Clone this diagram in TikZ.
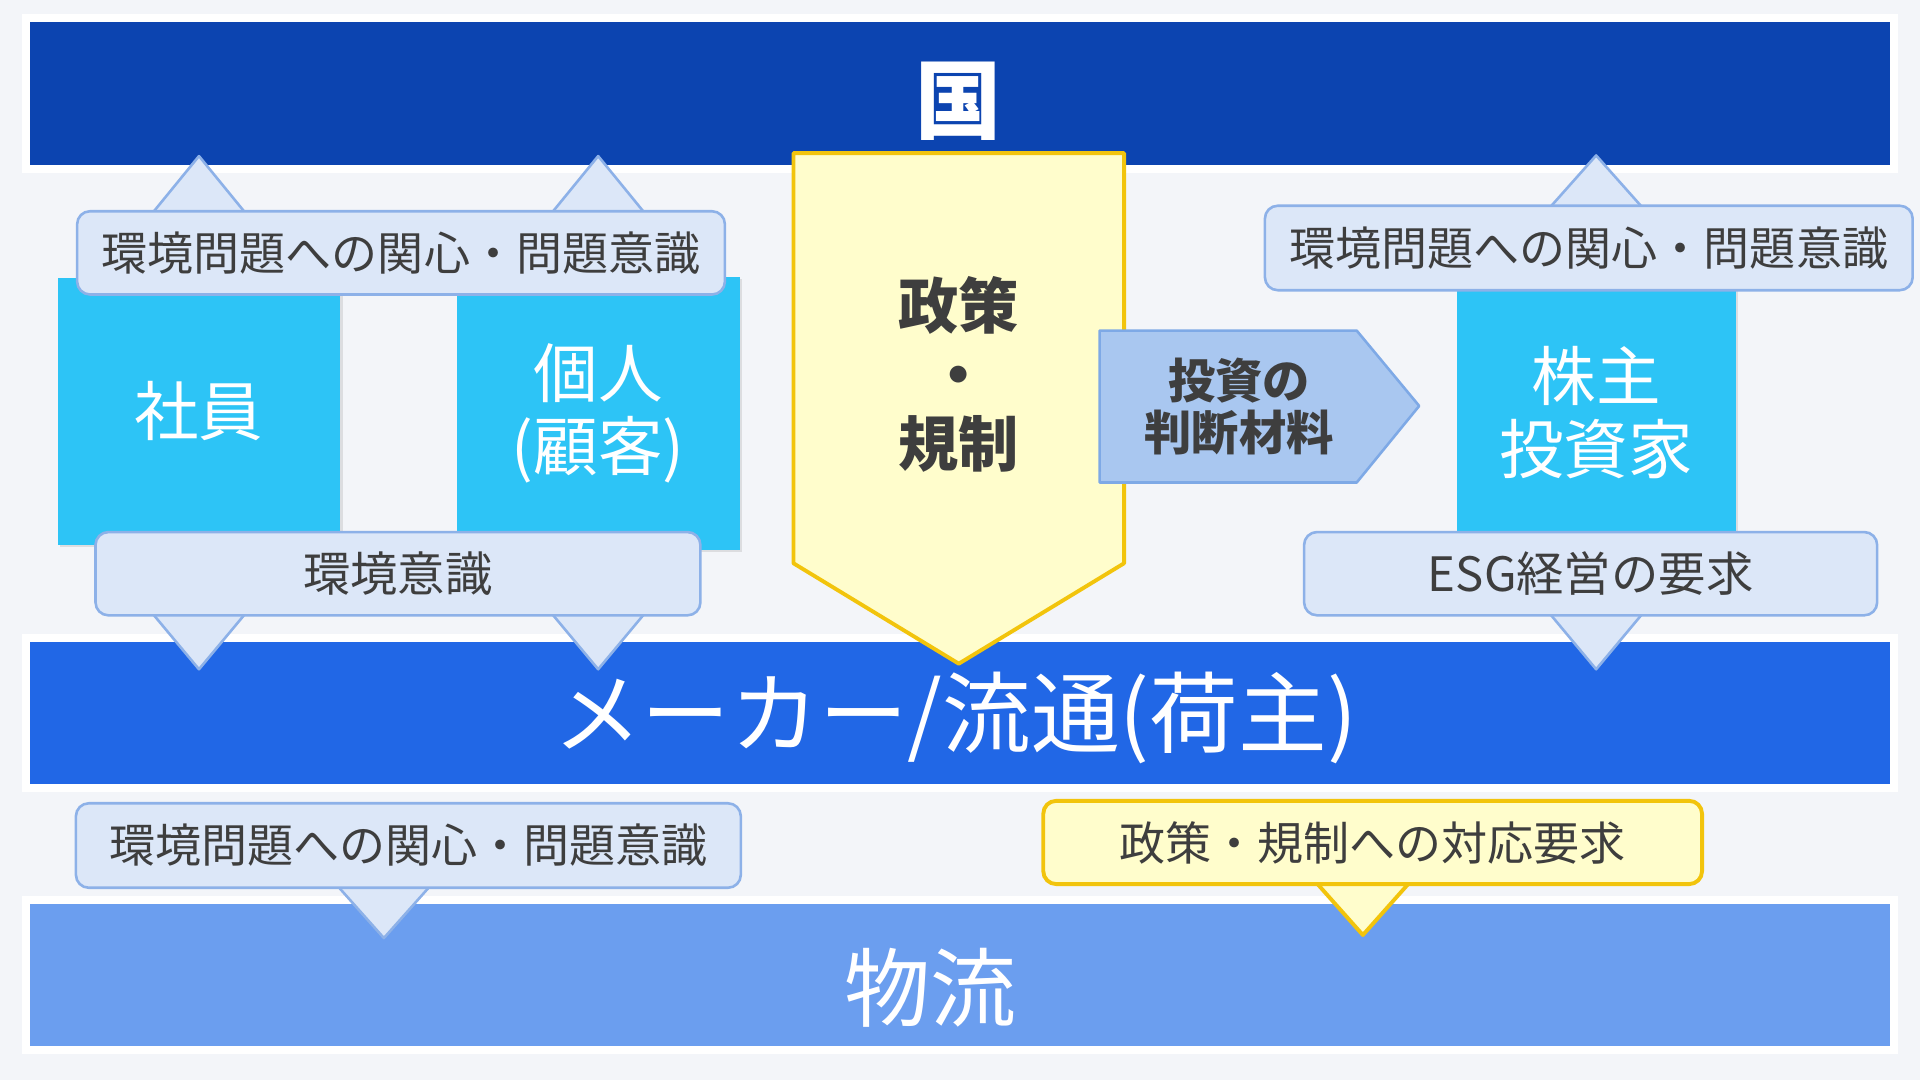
\documentclass[tikz,border=0pt]{standalone}
\usepackage{fontspec}
\setmainfont{Noto Sans CJK JP}
\usepackage{xcolor}
\usetikzlibrary{calc,positioning,backgrounds,shadows}
\definecolor{pagebg}{HTML}{F3F5F9}
\definecolor{kokublue}{HTML}{0C44B0}
\definecolor{makerblue}{HTML}{2167E6}
\definecolor{butsublue}{HTML}{6B9EEF}
\definecolor{boxcyan}{HTML}{2DC4F6}
\definecolor{callfill}{HTML}{DCE7F8}
\definecolor{callline}{HTML}{8DB1E8}
\definecolor{polfill}{HTML}{FFFDCC}
\definecolor{polline}{HTML}{F2C40C}
\definecolor{investfill}{HTML}{A9C7F0}
\definecolor{investline}{HTML}{7EA9E6}
\definecolor{txtgray}{HTML}{3E3E3E}
\tikzset{
  band/.style={draw=white, line width=1.85pt, outer sep=0pt, inner sep=0pt,
    minimum width=15.26cm, minimum height=1.23cm,
    drop shadow={shadow xshift=0.6pt, shadow yshift=-0.9pt, opacity=0.3}},
  bandtext/.style={text=white, inner sep=0pt},
  bubble/.style={draw=callline, line width=0.6pt, fill=callfill, rounded corners=3pt,
    minimum height=0.68cm, inner sep=0pt, text=txtgray, font=\fontsize{10.7}{12}\selectfont},
  tri/.style={draw=callline, line width=0.6pt, fill=callfill, line join=round},
}

\begin{document}
\begin{tikzpicture}[
  cbox/.style={fill=boxcyan, minimum width=2.31cm, inner sep=0pt, align=center, text=white,
    font=\fontsize{15}{17}\selectfont,
    drop shadow={shadow xshift=0.5pt, shadow yshift=-0.6pt, opacity=0.2}},
  policy/.style={draw=polline, line width=0.9pt, fill=polfill, line join=round},
  invest/.style={draw=investline, line width=0.6pt, fill=investfill, line join=round},
  ybubble/.style={bubble, draw=polline, fill=polfill, line width=0.9pt},
  ytri/.style={tri, draw=polline, fill=polfill, line width=0.9pt},
]
  \useasboundingbox (0,0) rectangle (15.68,8.82);

  \begin{scope}[on background layer]
    \fill[pagebg] (0,0) rectangle (15.68,8.82);
    \node[band, fill=kokublue] (koku) at (7.84,8.057) {};
    \node[band, fill=makerblue] (maker) at (7.84,2.997) {};
    \node[band, fill=butsublue] (butsuryu) at (7.84,0.857) {};
    \node[cbox, minimum height=2.18cm] (shain) at (1.625,5.46) {社員};
    \node[cbox, minimum height=2.23cm] (kojin) at (4.885,5.445) {個人\\(顧客)};
    \node[cbox, minimum width=2.28cm, minimum height=2.24cm] (kabu) at (13.035,5.45) {株主\\投資家};
  \end{scope}

  \node[bandtext, font=\fontsize{20}{24}\selectfont\bfseries] (kokuL) at (7.83,7.99) {国};
  \node[bandtext, font=\fontsize{20.6}{24}\selectfont] (makerL) at (7.80,2.96) {メーカー/流通(荷主)};
  \node[bandtext, font=\fontsize{20}{24}\selectfont] (butsuryuL) at (7.6,0.75) {物流};

  \draw[policy] (6.48,7.57) -- (9.18,7.57) -- (9.18,4.22) -- (7.83,3.40) -- (6.48,4.22) -- cycle;
  \node[text=txtgray, align=center, font=\fontsize{14}{16}\selectfont\bfseries] (seisaku) at (7.83,5.76) {政策\\・\\規制};

  \draw[invest] (8.98,6.12) -- (11.08,6.12) -- (11.59,5.505) -- (11.08,4.88) -- (8.98,4.88) -- cycle;
  \node[text=txtgray, align=center, font=\fontsize{11}{12}\selectfont\bfseries] (toshi) at (10.12,5.50) {投資の\\判断材料};

  \node[bubble, minimum width=5.29cm] (kanL) at (3.275,6.755) {環境問題への関心・問題意識};
  \node[bubble, minimum width=5.29cm, minimum height=0.69cm] (kanR) at (12.975,6.795) {環境問題への関心・問題意識};
  \node[bubble, minimum width=4.94cm, font=\fontsize{11}{12}\selectfont] (ishiki) at (3.25,4.135) {環境意識};
  \node[bubble, minimum width=4.68cm, font=\fontsize{11}{12}\selectfont] (esg) at (12.99,4.135) {ESG経営の要求};
  \node[bubble, minimum width=5.43cm, minimum height=0.69cm] (kanB) at (3.335,1.915) {環境問題への関心・問題意識};
  \node[ybubble, minimum width=5.38cm] (taio) at (11.21,1.94) {政策・規制への対応要求};

  \begin{scope}[on background layer]
    \foreach \b in {shain,kojin} {
      \draw[tri] ($(kanL.north -| \b)+(-0.4,-0.05)$) -- ($(kanL.north -| \b)+(0,0.44)$) -- ($(kanL.north -| \b)+(0.4,-0.05)$) -- cycle;
      \draw[tri] ($(ishiki.south -| \b)+(-0.4,0.05)$) -- ($(ishiki.south -| \b)+(0,-0.43)$) -- ($(ishiki.south -| \b)+(0.4,0.05)$) -- cycle;
    }
    \draw[tri] ($(kanR.north -| kabu)+(-0.4,-0.05)$) -- ($(kanR.north -| kabu)+(0,0.40)$) -- ($(kanR.north -| kabu)+(0.4,-0.05)$) -- cycle;
    \draw[tri] ($(esg.south -| kabu)+(-0.4,0.05)$) -- ($(esg.south -| kabu)+(0,-0.43)$) -- ($(esg.south -| kabu)+(0.4,0.05)$) -- cycle;
    \draw[tri] ($(kanB.south)+(-0.6,0.05)$) -- ($(kanB.south)+(-0.2,-0.40)$) -- ($(kanB.south)+(0.2,0.05)$) -- cycle;
    \draw[ytri] ($(taio.south)+(-0.48,0.05)$) -- ($(taio.south)+(-0.08,-0.40)$) -- ($(taio.south)+(0.32,0.05)$) -- cycle;
  \end{scope}
\end{tikzpicture}
\end{document}
